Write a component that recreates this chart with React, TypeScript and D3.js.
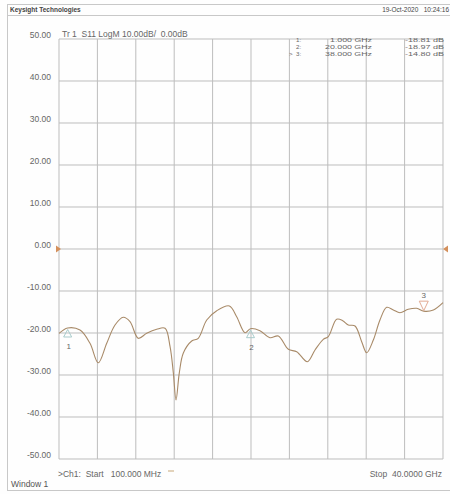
import React from "react";
import * as d3 from "d3";

const freqGHz = [0.1, 1.0, 2.28, 3.32, 4.18, 5.06, 5.92, 6.78, 7.48, 8.34, 9.21, 10.25, 11.12, 11.64, 11.98, 12.26, 12.6, 13.02, 13.89, 14.57, 15.45, 16.49, 17.8, 18.56, 19.43, 20.0, 20.98, 22.02, 22.89, 23.93, 24.8, 25.9, 26.7, 27.56, 28.08, 28.95, 29.58, 30.16, 30.86, 31.55, 32.07, 32.76, 33.45, 34.15, 34.84, 35.53, 36.39, 37.27, 38.0, 39.0, 40.0];
const s11dB = [-20.1, -18.81, -19.3, -22.45, -27.1, -22.45, -18.1, -16.26, -17.3, -21.26, -20.07, -19.12, -18.88, -23.26, -29.5, -35.95, -29.5, -24.76, -21.9, -21.26, -16.9, -14.69, -13.57, -16.12, -19.93, -18.97, -19.45, -21.12, -20.71, -23.88, -24.45, -26.83, -24.05, -21.5, -20.88, -16.74, -17.07, -18.1, -18.33, -22.07, -24.69, -21.67, -16.9, -13.88, -14.52, -15.17, -14.36, -14.12, -14.8, -14.52, -12.79];

const yTicks = [50, 40, 30, 20, 10, 0, -10, -20, -30, -40, -50];
const yTickLabels = ["50.00", "40.00", "30.00", "20.00", "10.00", "0.00", "-10.00", "-20.00", "-30.00", "-40.00", "-50.00"];
const xDivisions = [0, 1, 2, 3, 4, 5, 6, 7, 8, 9, 10];

const markerIds = ["1", "2", "3"];
const markerFreq = [1.0, 20.0, 38.0];
const markerVal = [-18.81, -18.97, -14.8];
const markerFreqLabels = ["1.000 GHz", "20.000 GHz", "38.000 GHz"];
const markerValLabels = ["-18.81 dB", "-18.97 dB", "-14.80 dB"];

const W = 450;
const H = 494;
const L = 59;
const R = 443;
const T = 39;
const B = 459;

export default function App() {
  const x = d3.scaleLinear().domain([0.1, 40]).range([L, R]);
  const y = d3.scaleLinear().domain([-50, 50]).range([B, T]);
  const xd = d3.scaleLinear().domain([0, 10]).range([L, R]);
  const pts: [number, number][] = freqGHz.map((f, i) => [f, s11dB[i]]);
  const line = d3
    .line<[number, number]>()
    .x((d) => x(d[0]))
    .y((d) => y(d[1]))
    .curve(d3.curveCatmullRom.alpha(0.5));
  const font = "Liberation Sans, Arial, sans-serif";
  const textCol = "#666";
  const gridCol = "#bdbdbd";
  const y0 = y(0);
  const rowY = (i: number) => 42 + i * 7;
  return (
    <svg
      width={W}
      height={H}
      style={{ position: "absolute", left: 0, top: 0, background: "#fff" }}
      fontFamily={font}
    >
      <rect x={0} y={0} width={W} height={H} fill="#fefefe" />
      {/* frame */}
      <line x1={7} x2={W} y1={4.5} y2={4.5} stroke="#c8c8c8" />
      <line x1={7} x2={W} y1={15.5} y2={15.5} stroke="#c8c8c8" />
      <line x1={7.5} x2={7.5} y1={4} y2={491} stroke="#c8c8c8" />
      <line x1={7} x2={W} y1={490.5} y2={490.5} stroke="#c8c8c8" />
      <text x={10} y={12} fontSize={6.5} fill="#444" fontWeight="bold">
        Keysight Technologies
      </text>
      <text x={449} y={12} fontSize={6.5} fill="#444" textAnchor="end" xmlSpace="preserve">
        {"19-Oct-2020   10:24:16"}
      </text>

      {/* grid */}
      {yTicks.map((t, i) => (
        <g key={"y" + i}>
          <line x1={L} x2={R} y1={y(t)} y2={y(t)} stroke={gridCol} strokeWidth={1} />
          <text x={51} y={y(t) - 1} fontSize={8.5} fill={textCol} textAnchor="end">
            {yTickLabels[i]}
          </text>
        </g>
      ))}
      {xDivisions.map((d) => (
        <line key={"x" + d} x1={xd(d)} x2={xd(d)} y1={T} y2={B} stroke={gridCol} strokeWidth={1} />
      ))}

      <text x={62} y={37} fontSize={8.5} fill={textCol} xmlSpace="preserve">
        {"Tr 1  S11 LogM 10.00dB/  0.00dB"}
      </text>

      {/* marker table */}
      {markerIds.map((m, i) => (
        <g key={"mt" + i} fontSize={6.2} fill={textCol}>
          {i === 2 && (
            <text x={289} y={rowY(i)}>
              {">"}
            </text>
          )}
          <text x={296} y={rowY(i)}>
            {m + ":"}
          </text>
          <text
            x={372 - (i === 0 ? 42 : 47)}
            y={rowY(i)}
            textLength={i === 0 ? 42 : 47}
            lengthAdjust="spacingAndGlyphs"
          >
            {markerFreqLabels[i]}
          </text>
          <text x={405} y={rowY(i)} textLength={39} lengthAdjust="spacingAndGlyphs">
            {markerValLabels[i]}
          </text>
        </g>
      ))}

      {/* reference arrows */}
      <path d={`M${L - 3},${y0 - 3.5} L${L + 2},${y0} L${L - 3},${y0 + 3.5} Z`} fill="#d4905c" />
      <path d={`M${R + 5},${y0 - 3.5} L${R},${y0} L${R + 5},${y0 + 3.5} Z`} fill="#d4905c" />

      {/* trace */}
      <path d={line(pts) || ""} fill="none" stroke="#a88a68" strokeWidth={1.1} />

      {/* markers */}
      {markerIds.map((m, i) => {
        const mx = x(markerFreq[i]);
        const my = y(markerVal[i]);
        if (i === 2) {
          return (
            <g key={"mk" + i}>
              <path
                d={`M${mx - 4.5},${my - 10} L${mx + 4.5},${my - 10} L${mx},${my - 0.5} Z`}
                fill="none"
                stroke="#e2ab94"
                strokeWidth={1}
              />
              <text x={mx} y={my - 13} fontSize={8} fill={textCol} textAnchor="middle">
                {m}
              </text>
            </g>
          );
        }
        return (
          <g key={"mk" + i}>
            <path
              d={`M${mx - 4},${my + 9} L${mx + 4},${my + 9} L${mx},${my + 1.5} Z`}
              fill="none"
              stroke="#a9cccc"
              strokeWidth={1}
            />
            <text x={mx + 1} y={my + 21} fontSize={8} fill={textCol} textAnchor="middle">
              {m}
            </text>
          </g>
        );
      })}

      {/* footer */}
      <text x={58} y={477} fontSize={8.5} fill={textCol} xmlSpace="preserve">
        {">Ch1:  Start   100.000 MHz"}
      </text>
      <line x1={168} x2={174} y1={471} y2={471} stroke="#c8a878" strokeWidth={1} />
      <text x={442} y={477} fontSize={8.5} fill={textCol} textAnchor="end" xmlSpace="preserve">
        {"Stop  40.0000 GHz"}
      </text>
      <text x={11} y={487} fontSize={8.5} fill="#555">
        Window 1
      </text>
    </svg>
  );
}
